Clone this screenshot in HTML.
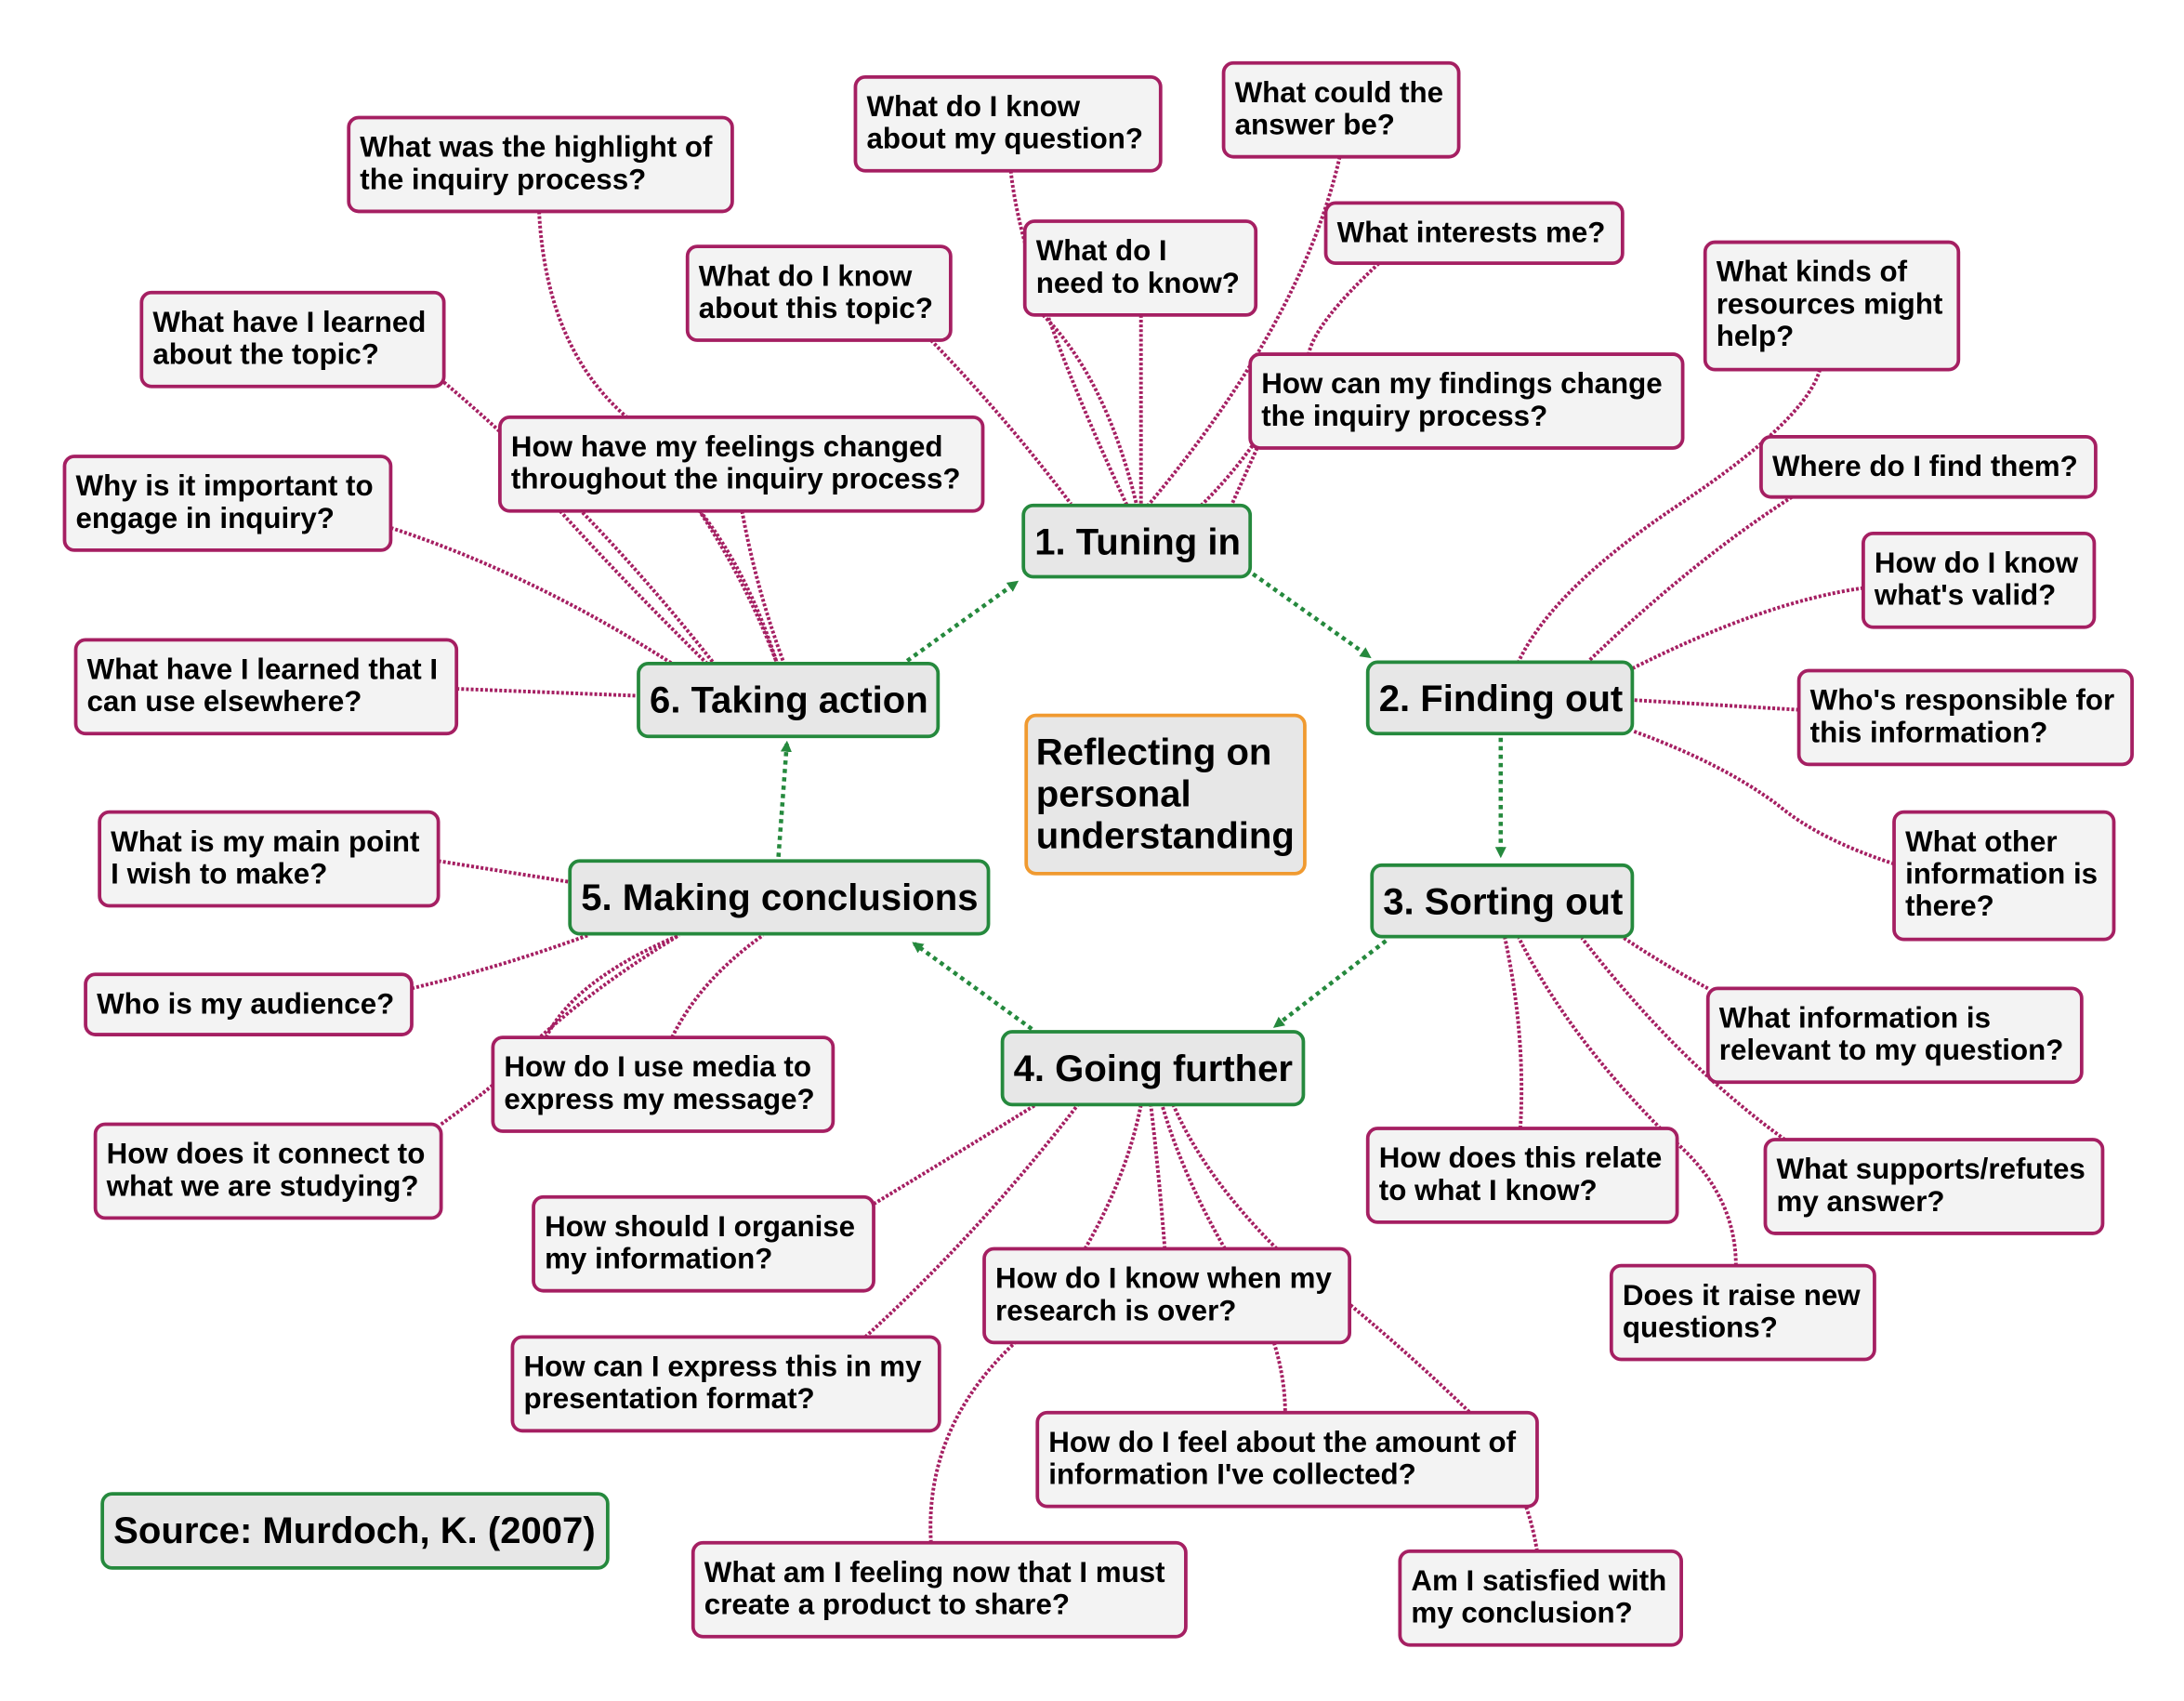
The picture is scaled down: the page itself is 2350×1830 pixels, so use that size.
<!DOCTYPE html>
<html><head><meta charset="utf-8"><style>
html,body{margin:0;padding:0;background:#fff}
svg{display:block}
text{font-family:"Liberation Sans",Arial,sans-serif;font-weight:bold;fill:#000}
.q rect{fill:#f3f3f3;stroke:#a51f62;stroke-width:2.5}
.q text{font-size:20.8px}
.m rect{fill:#e7e7e7;stroke:#25893d;stroke-width:2.5}
.m text{font-size:26.6px}
.e{fill:none;stroke:#a51f62;stroke-width:2.6;stroke-dasharray:2 1.4}
.g{fill:none;stroke:#25893d;stroke-width:3;stroke-dasharray:3 3}
</style></head><body>
<svg width="2350" height="1830" viewBox="0 0 1560 1215" xmlns="http://www.w3.org/2000/svg">
<defs><marker id="ah" markerWidth="8" markerHeight="8" refX="6" refY="4" orient="auto" markerUnits="userSpaceOnUse"><path d="M0,0 L8,4 L0,8 z" fill="#25893d"/></marker></defs>
<path class="e" d="M722,122 Q730,200 805,361"/>
<path class="e" d="M745,225 Q790,270 812,361"/>
<path class="e" d="M815,225 L815,361"/>
<path class="e" d="M957,112 Q930,230 820,361"/>
<path class="e" d="M985,188 Q940,230 935,252 Q900,320 858,361"/>
<path class="e" d="M898,320 L880,360"/>
<path class="e" d="M665,243 Q720,300 765,360"/>
<path class="e" d="M1300,264 Q1290,300 1200,360 Q1110,420 1085,472"/>
<path class="e" d="M1280,355 Q1210,400 1135,472"/>
<path class="e" d="M1331,420 Q1260,430 1165,478"/>
<path class="e" d="M1285,507 L1166,500"/>
<path class="e" d="M1353,617 Q1300,600 1270,575 Q1230,545 1166,522"/>
<path class="e" d="M1220,706 Q1190,690 1160,670"/>
<path class="e" d="M1275,814 Q1200,760 1130,670"/>
<path class="e" d="M1086,806 Q1090,740 1075,670"/>
<path class="e" d="M1240,904 Q1240,850 1190,810 Q1120,740 1085,670"/>
<path class="e" d="M624,860 Q690,820 740,789"/>
<path class="e" d="M618,955 Q700,880 770,789"/>
<path class="e" d="M775,892 Q805,840 815,789"/>
<path class="e" d="M832,892 Q828,840 822,789"/>
<path class="e" d="M875,892 Q845,840 830,789"/>
<path class="e" d="M912,892 Q860,840 838,789"/>
<path class="e" d="M910,959 Q918,985 918,1009"/>
<path class="e" d="M962,930 Q1010,970 1050,1009"/>
<path class="e" d="M665,1102 Q660,1020 725,959"/>
<path class="e" d="M1098,1108 Q1095,1090 1090,1076"/>
<path class="e" d="M313,615 L407,630"/>
<path class="e" d="M294,706 Q360,690 420,668"/>
<path class="e" d="M315,803 Q340,785 352,775 Q400,720 485,668"/>
<path class="e" d="M480,741 Q500,700 545,668"/>
<path class="e" d="M390,741 Q410,700 485,668"/>
<path class="e" d="M326,492 L456,497"/>
<path class="e" d="M279,377 Q380,410 480,474"/>
<path class="e" d="M317,273 Q420,360 510,474"/>
<path class="e" d="M385,151 Q390,250 450,300 Q520,380 555,474"/>
<path class="e" d="M500,365 Q535,410 555,474"/>
<path class="e" d="M530,365 Q540,420 560,474"/>
<path class="e" d="M400,365 Q450,420 505,474"/>
<path class="g" d="M648,472 L726,416" marker-end="url(#ah)"/>
<path class="g" d="M895,410 L978,469" marker-end="url(#ah)"/>
<path class="g" d="M1072,527 L1072,611" marker-end="url(#ah)"/>
<path class="g" d="M990,672 L911,733" marker-end="url(#ah)"/>
<path class="g" d="M737,735 L653,674" marker-end="url(#ah)"/>
<path class="g" d="M556,612 L562,531" marker-end="url(#ah)"/>
<g class="m">
<rect x="731" y="361" width="162" height="51" rx="7"/><text x="739" y="396">1. Tuning in</text>
<rect x="977" y="473" width="189" height="51" rx="7"/><text x="985" y="508">2. Finding out</text>
<rect x="980" y="618" width="186" height="51" rx="7"/><text x="988" y="653">3. Sorting out</text>
<rect x="716" y="737" width="215" height="52" rx="7"/><text x="724" y="772">4. Going further</text>
<rect x="407" y="615" width="299" height="52" rx="7"/><text x="415" y="650">5. Making conclusions</text>
<rect x="456" y="474" width="214" height="52" rx="7"/><text x="464" y="509">6. Taking action</text>
<rect x="733" y="511" width="199" height="113" rx="7" style="stroke:#f09a30"/><text x="740" y="546">Reflecting on</text><text x="740" y="576">personal</text><text x="740" y="606">understanding</text>
<rect x="73" y="1067" width="361" height="53" rx="7"/><text x="81" y="1102">Source: Murdoch, K. (2007)</text>
</g>
<g class="q">
<rect x="249" y="84" width="274" height="67" rx="7"/><text x="257" y="112">What was the highlight of</text><text x="257" y="135">the inquiry process?</text>
<rect x="611" y="55" width="218" height="67" rx="7"/><text x="619" y="83">What do I know</text><text x="619" y="106">about my question?</text>
<rect x="874" y="45" width="168" height="67" rx="7"/><text x="882" y="73">What could the</text><text x="882" y="96">answer be?</text>
<rect x="947" y="145" width="212" height="43" rx="7"/><text x="955" y="173">What interests me?</text>
<rect x="732" y="158" width="165" height="67" rx="7"/><text x="740" y="186">What do I</text><text x="740" y="209">need to know?</text>
<rect x="491" y="176" width="188" height="67" rx="7"/><text x="499" y="204">What do I know</text><text x="499" y="227">about this topic?</text>
<rect x="101" y="209" width="216" height="67" rx="7"/><text x="109" y="237">What have I learned</text><text x="109" y="260">about the topic?</text>
<rect x="1218" y="173" width="181" height="91" rx="7"/><text x="1226" y="201">What kinds of</text><text x="1226" y="224">resources might</text><text x="1226" y="247">help?</text>
<rect x="893" y="253" width="309" height="67" rx="7"/><text x="901" y="281">How can my findings change</text><text x="901" y="304">the inquiry process?</text>
<rect x="1258" y="312" width="239" height="43" rx="7"/><text x="1266" y="340">Where do I find them?</text>
<rect x="357" y="298" width="345" height="67" rx="7"/><text x="365" y="326">How have my feelings changed</text><text x="365" y="349">throughout the inquiry process?</text>
<rect x="46" y="326" width="233" height="67" rx="7"/><text x="54" y="354">Why is it important to</text><text x="54" y="377">engage in inquiry?</text>
<rect x="1331" y="381" width="165" height="67" rx="7"/><text x="1339" y="409">How do I know</text><text x="1339" y="432">what's valid?</text>
<rect x="54" y="457" width="272" height="67" rx="7"/><text x="62" y="485">What have I learned that I</text><text x="62" y="508">can use elsewhere?</text>
<rect x="1285" y="479" width="238" height="67" rx="7"/><text x="1293" y="507">Who's responsible for</text><text x="1293" y="530">this information?</text>
<rect x="1353" y="580" width="157" height="91" rx="7"/><text x="1361" y="608">What other</text><text x="1361" y="631">information is</text><text x="1361" y="654">there?</text>
<rect x="71" y="580" width="242" height="67" rx="7"/><text x="79" y="608">What is my main point</text><text x="79" y="631">I wish to make?</text>
<rect x="61" y="696" width="233" height="43" rx="7"/><text x="69" y="724">Who is my audience?</text>
<rect x="1220" y="706" width="267" height="67" rx="7"/><text x="1228" y="734">What information is</text><text x="1228" y="757">relevant to my question?</text>
<rect x="352" y="741" width="243" height="67" rx="7"/><text x="360" y="769">How do I use media to</text><text x="360" y="792">express my message?</text>
<rect x="68" y="803" width="247" height="67" rx="7"/><text x="76" y="831">How does it connect to</text><text x="76" y="854">what we are studying?</text>
<rect x="977" y="806" width="221" height="67" rx="7"/><text x="985" y="834">How does this relate</text><text x="985" y="857">to what I know?</text>
<rect x="1261" y="814" width="241" height="67" rx="7"/><text x="1269" y="842">What supports/refutes</text><text x="1269" y="865">my answer?</text>
<rect x="381" y="855" width="243" height="67" rx="7"/><text x="389" y="883">How should I organise</text><text x="389" y="906">my information?</text>
<rect x="703" y="892" width="261" height="67" rx="7"/><text x="711" y="920">How do I know when my</text><text x="711" y="943">research is over?</text>
<rect x="1151" y="904" width="188" height="67" rx="7"/><text x="1159" y="932">Does it raise new</text><text x="1159" y="955">questions?</text>
<rect x="366" y="955" width="305" height="67" rx="7"/><text x="374" y="983">How can I express this in my</text><text x="374" y="1006">presentation format?</text>
<rect x="741" y="1009" width="357" height="67" rx="7"/><text x="749" y="1037">How do I feel about the amount of</text><text x="749" y="1060">information I've collected?</text>
<rect x="495" y="1102" width="352" height="67" rx="7"/><text x="503" y="1130">What am I feeling now that I must</text><text x="503" y="1153">create a product to share?</text>
<rect x="1000" y="1108" width="201" height="67" rx="7"/><text x="1008" y="1136">Am I satisfied with</text><text x="1008" y="1159">my conclusion?</text>
</g>
</svg>
</body></html>
